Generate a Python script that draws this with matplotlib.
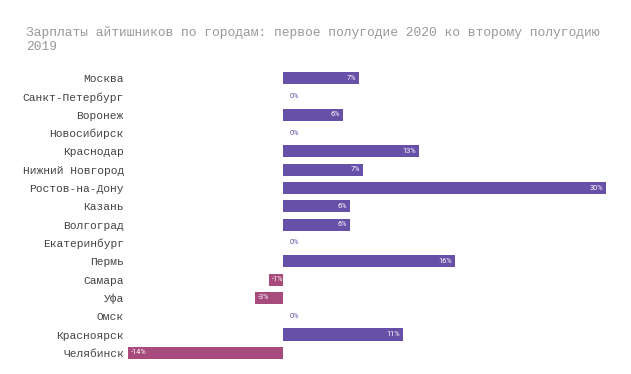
import matplotlib
matplotlib.use("Agg")
import matplotlib.pyplot as plt

title = "Зарплаты айтишников по городам: первое полугодие 2020 ко второму полугодию\n2019"
cities = ["Москва", "Санкт-Петербург", "Воронеж", "Новосибирск", "Краснодар",
          "Нижний Новгород", "Ростов-на-Дону", "Казань", "Волгоград", "Екатеринбург",
          "Пермь", "Самара", "Уфа", "Омск", "Красноярск", "Челябинск"]
changes = [7.1, 0.0, 5.6, 0.0, 12.6, 7.4, 30.0, 6.2, 6.2, 0.0,
           16.0, -1.3, -2.6, 0.0, 11.1, -14.4]

POS = "#6650A8"
NEG = "#A64B7B"

fig = plt.figure(figsize=(6.31, 3.74), dpi=100)
W, H = 631, 374
ax = fig.add_axes([128 / W, 1 - 362 / H, (606 - 128) / W, (362 - 69) / H])

y = list(range(len(cities)))
colors = [POS if v >= 0 else NEG for v in changes]
ax.barh(y, changes, height=0.66, color=colors)
ax.set_xlim(min(changes), max(changes))
ax.set_ylim(len(cities) - 0.5, -0.5)

span = max(changes) - min(changes)
pad = span * 0.006
for yi, v in zip(y, changes):
    lab = f"{v:.0f}%"
    if v > 0:
        ax.text(v - pad, yi, lab, ha="right", va="center", color="white",
                fontsize=5.3, family="Roboto")
    elif v < 0:
        ax.text(v + pad, yi, lab, ha="left", va="center", color="white",
                fontsize=5.3, family="Roboto")
    else:
        ax.text(span * 0.013, yi, lab, ha="left", va="center", color="#6650A8",
                fontsize=5.3, family="Roboto")

ax.set_yticks(y)
ax.set_yticklabels(cities, family="Liberation Mono", fontsize=8.1, color="#444444")
ax.tick_params(axis="y", length=0, pad=3)
ax.set_xticks([])
for s in ax.spines.values():
    s.set_visible(False)

fig.text(26 / W, 1 - 26 / H, title, ha="left", va="top", family="Liberation Mono",
         fontsize=9.35, color="#999999", linespacing=1.2)

fig.savefig("out.png", dpi=100)
